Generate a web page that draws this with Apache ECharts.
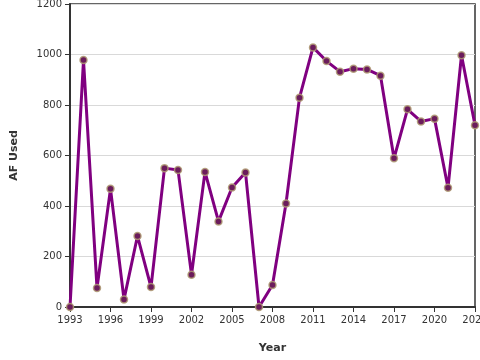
<!DOCTYPE html>
<html>
<head>
<meta charset="utf-8">
<script src="https://cdn.jsdelivr.net/npm/echarts@6/dist/echarts.min.js"></script>
<style>html,body{margin:0;padding:0;background:#fff}#c{width:480px;height:360px}</style>
</head>
<body>
<div id="c"></div>
<script>
var years = [1993,1994,1995,1996,1997,1998,1999,2000,2001,2002,2003,2004,2005,2006,2007,2008,2009,2010,2011,2012,2013,2014,2015,2016,2017,2018,2019,2020,2021,2022,2023];
var afUsed = [0,978,75,468,30,281,79,550,543,128,535,339,473,533,0,87,410,829,1028,974,932,944,941,916,589,783,735,746,472,997,720];
var yTicks = [0,200,400,600,800,1000,1200];

var chart = echarts.init(document.getElementById('c'), null, {renderer:'canvas'});
var font = 'DejaVu Sans';
chart.setOption({
  animation:false,
  backgroundColor:'#fff',
  grid:{left:70,right:5,top:4,bottom:53,containLabel:false,outerBoundsMode:'none',show:true,borderColor:'#333',borderWidth:1.5,backgroundColor:'transparent'},
  xAxis:{
    type:'category', data:years.map(String), boundaryGap:false,
    name:'Year', nameLocation:'middle', nameGap:36,
    nameTextStyle:{fontFamily:font,fontSize:11,fontWeight:'bold',color:'#333'},
    axisLine:{lineStyle:{color:'#333',width:2}},
    axisTick:{interval:2,length:5,lineStyle:{color:'#333',width:1}},
    axisLabel:{interval:2,fontFamily:font,fontSize:10,color:'#333',margin:8,hideOverlap:false},
    splitLine:{show:false}
  },
  yAxis:{
    type:'value', min:yTicks[0], max:yTicks[yTicks.length-1], interval:200,
    name:'AF Used', nameLocation:'middle', nameGap:50,
    nameTextStyle:{fontFamily:font,fontSize:11,fontWeight:'bold',color:'#333'},
    axisLine:{show:true,lineStyle:{color:'#333',width:2}},
    axisTick:{show:true,length:5,lineStyle:{color:'#333'}},
    axisLabel:{fontFamily:font,fontSize:10,color:'#333',margin:8,formatter:function(v){return String(v);}},
    splitLine:{lineStyle:{color:'#d9d9d9',width:1}}
  },
  series:[{
    type:'line', data:afUsed,
    lineStyle:{color:'#800080',width:3},
    symbol:'circle', symbolSize:7,
    itemStyle:{color:'#6b1c5c',borderColor:'rgba(175,155,115,0.85)',borderWidth:1.5},
    z:3
  }]
});
</script>
</body>
</html>
